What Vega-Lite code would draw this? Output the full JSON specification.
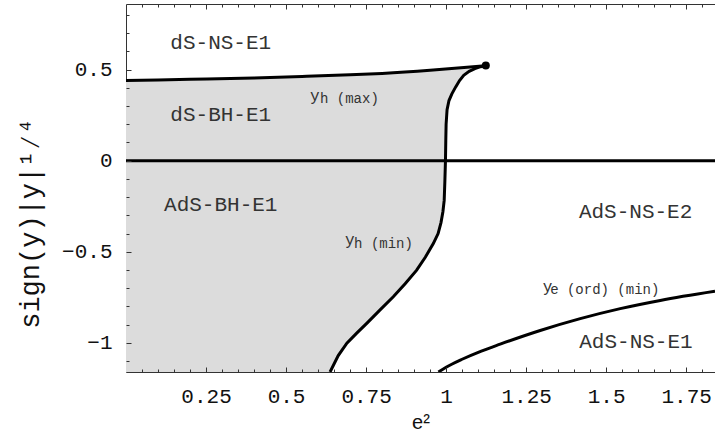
{
  "$schema": "https://vega.github.io/schema/vega-lite/v6.json",
  "width": 589,
  "height": 368,
  "autosize": {"type": "none"},
  "padding": {"left": 126, "top": 4, "right": 0, "bottom": 62},
  "background": "white",
  "config": {"view": {"stroke": null}},
  "datasets": {
    "fill": [
      {"y": -1.16, "xl": 0, "xr": 0.6375},
      {"y": -1.07, "xl": 0, "xr": 0.663},
      {"y": -1.002, "xl": 0, "xr": 0.69},
      {"y": -0.948, "xl": 0, "xr": 0.72},
      {"y": -0.893, "xl": 0, "xr": 0.752},
      {"y": -0.82, "xl": 0, "xr": 0.793},
      {"y": -0.747, "xl": 0, "xr": 0.835},
      {"y": -0.675, "xl": 0, "xr": 0.872},
      {"y": -0.601, "xl": 0, "xr": 0.908},
      {"y": -0.53, "xl": 0, "xr": 0.935},
      {"y": -0.455, "xl": 0, "xr": 0.96},
      {"y": -0.4, "xl": 0, "xr": 0.975},
      {"y": -0.34, "xl": 0, "xr": 0.984},
      {"y": -0.28, "xl": 0, "xr": 0.99},
      {"y": -0.218, "xl": 0, "xr": 0.994},
      {"y": -0.12, "xl": 0, "xr": 0.996},
      {"y": 0, "xl": 0, "xr": 0.998},
      {"y": 0.11, "xl": 0, "xr": 0.999},
      {"y": 0.2, "xl": 0, "xr": 1.0},
      {"y": 0.28, "xl": 0, "xr": 1.003},
      {"y": 0.33, "xl": 0, "xr": 1.009},
      {"y": 0.367, "xl": 0, "xr": 1.018},
      {"y": 0.405, "xl": 0, "xr": 1.03},
      {"y": 0.44, "xl": 0, "xr": 1.042},
      {"y": 0.447, "xl": 0.2, "xr": 1.045},
      {"y": 0.454, "xl": 0.4, "xr": 1.048},
      {"y": 0.462, "xl": 0.55, "xr": 1.052},
      {"y": 0.468, "xl": 0.65, "xr": 1.055},
      {"y": 0.471, "xl": 0.7, "xr": 1.057},
      {"y": 0.479, "xl": 0.8, "xr": 1.064},
      {"y": 0.49, "xl": 0.9, "xr": 1.072},
      {"y": 0.496, "xl": 0.95, "xr": 1.08},
      {"y": 0.505, "xl": 1.012, "xr": 1.09},
      {"y": 0.514, "xl": 1.075, "xr": 1.105},
      {"y": 0.516, "xl": 1.087, "xr": 1.108},
      {"y": 0.522, "xl": 1.124, "xr": 1.124}
    ],
    "zero": [
      {"x": 0, "y": 0},
      {"x": 1.84, "y": 0}
    ],
    "hmax": [
      {"x": 0, "y": 0.44},
      {"x": 0.2, "y": 0.447},
      {"x": 0.4, "y": 0.454},
      {"x": 0.55, "y": 0.462},
      {"x": 0.7, "y": 0.471},
      {"x": 0.8, "y": 0.479},
      {"x": 0.95, "y": 0.496},
      {"x": 1.075, "y": 0.514},
      {"x": 1.124, "y": 0.522}
    ],
    "hmin": [
      {"x": 1.124, "y": 0.522},
      {"x": 1.108, "y": 0.516},
      {"x": 1.09, "y": 0.505},
      {"x": 1.072, "y": 0.49},
      {"x": 1.055, "y": 0.468},
      {"x": 1.042, "y": 0.44},
      {"x": 1.03, "y": 0.405},
      {"x": 1.018, "y": 0.367},
      {"x": 1.009, "y": 0.33},
      {"x": 1.003, "y": 0.28},
      {"x": 1.0, "y": 0.2},
      {"x": 0.999, "y": 0.11},
      {"x": 0.998, "y": 0},
      {"x": 0.996, "y": -0.12},
      {"x": 0.994, "y": -0.218},
      {"x": 0.99, "y": -0.28},
      {"x": 0.984, "y": -0.34},
      {"x": 0.975, "y": -0.4},
      {"x": 0.96, "y": -0.455},
      {"x": 0.935, "y": -0.53},
      {"x": 0.908, "y": -0.601},
      {"x": 0.872, "y": -0.675},
      {"x": 0.835, "y": -0.747},
      {"x": 0.793, "y": -0.82},
      {"x": 0.752, "y": -0.893},
      {"x": 0.72, "y": -0.948},
      {"x": 0.69, "y": -1.002},
      {"x": 0.663, "y": -1.07},
      {"x": 0.6375, "y": -1.16}
    ],
    "ye": [
      {"x": 0.976, "y": -1.16},
      {"x": 1.0, "y": -1.134},
      {"x": 1.05, "y": -1.09},
      {"x": 1.11, "y": -1.045},
      {"x": 1.169, "y": -1.007},
      {"x": 1.294, "y": -0.932},
      {"x": 1.419, "y": -0.867},
      {"x": 1.544, "y": -0.812},
      {"x": 1.669, "y": -0.767},
      {"x": 1.84, "y": -0.717}
    ],
    "dot": [{"x": 1.124, "y": 0.522}],
    "regions": [
      {"x": 0.296, "y": 0.644, "label": "dS-NS-E1"},
      {"x": 0.296, "y": 0.248, "label": "dS-BH-E1"},
      {"x": 0.296, "y": -0.245, "label": "AdS-BH-E1"},
      {"x": 1.592, "y": -0.284, "label": "AdS-NS-E2"},
      {"x": 1.593, "y": -0.993, "label": "AdS-NS-E1"}
    ],
    "mainy": [
      {"x": 0.575, "y": 0.33, "label": "y"},
      {"x": 0.684, "y": -0.464, "label": "y"},
      {"x": 1.302, "y": -0.72, "label": "y"}
    ],
    "subs": [
      {"x": 0.606, "y": 0.318, "label": "h (max)"},
      {"x": 0.7125, "y": -0.482, "label": "h (min)"},
      {"x": 1.325, "y": -0.732, "label": "e (ord) (min)"}
    ]
  },
  "resolve": {
    "scale": {"x": "shared", "y": "shared"},
    "axis": {"x": "independent", "y": "independent"}
  },
  "layer": [
    {
      "data": {"name": "fill"},
      "mark": {"type": "area", "orient": "horizontal", "color": "#dcdcdc", "clip": true},
      "encoding": {
        "y": {
          "field": "y", "type": "quantitative",
          "scale": {"domain": [-1.16, 0.86], "nice": false, "zero": false},
          "axis": {
            "orient": "left", "values": [-1, -0.5, 0, 0.5],
            "labelExpr": "replace(toString(datum.value), '-', '−')",
            "ticks": false, "grid": false, "domain": true, "domainColor": "#333", "domainWidth": 1,
            "labelFont": "Liberation Mono", "labelFontSize": 21, "labelColor": "#111", "labelPadding": 14,
            "title": "sign(y)|y|¹⁄⁴", "titleFont": "Liberation Mono", "titleFontSize": 27,
            "titleFontWeight": "normal", "titleColor": "#111", "titleAngle": -90,
            "titleAlign": "center", "titleBaseline": "middle", "titleX": -96, "titleY": 219
          }
        },
        "x": {
          "field": "xl", "type": "quantitative",
          "scale": {"domain": [0, 1.84], "nice": false, "zero": false},
          "axis": {
            "orient": "bottom", "values": [0.25, 0.5, 0.75, 1, 1.25, 1.5, 1.75],
            "labelExpr": "toString(datum.value)",
            "ticks": false, "grid": false, "domain": true, "domainColor": "#333", "domainWidth": 1,
            "labelFont": "Liberation Mono", "labelFontSize": 21, "labelColor": "#111", "labelPadding": 13,
            "title": "e²", "titleFont": "Liberation Sans", "titleFontSize": 20,
            "titleFontWeight": "normal", "titleColor": "#111",
            "titleBaseline": "alphabetic", "titleY": 56
          }
        },
        "x2": {"field": "xr"},
        "order": {"value": null}
      }
    },
    {
      "data": {"name": "zero"},
      "mark": {"type": "line", "color": "black", "strokeWidth": 3, "clip": true},
      "encoding": {
        "x": {
          "field": "x", "type": "quantitative",
          "scale": {"domain": [0, 1.84], "nice": false, "zero": false},
          "axis": {
            "orient": "bottom", "offset": -3, "zindex": 1,
            "values": [0.05, 0.1, 0.15, 0.2, 0.3, 0.35, 0.4, 0.45, 0.55, 0.6, 0.65, 0.7, 0.8, 0.85, 0.9, 0.95, 1.05, 1.1, 1.15, 1.2, 1.3, 1.35, 1.4, 1.45, 1.55, 1.6, 1.65, 1.7, 1.8],
            "labels": false, "domain": false, "grid": false, "title": null,
            "ticks": true, "tickSize": 3, "tickColor": "#333", "tickWidth": 1
          }
        },
        "y": {
          "field": "y", "type": "quantitative",
          "scale": {"domain": [-1.16, 0.86], "nice": false, "zero": false},
          "axis": {
            "orient": "left", "offset": -3, "zindex": 1,
            "values": [-1.1, -0.9, -0.8, -0.7, -0.6, -0.4, -0.3, -0.2, -0.1, 0.1, 0.2, 0.3, 0.4, 0.6, 0.7, 0.8],
            "labels": false, "domain": false, "grid": false, "title": null,
            "ticks": true, "tickSize": 3, "tickColor": "#333", "tickWidth": 1
          }
        }
      }
    },
    {
      "data": {"name": "hmax"},
      "mark": {"type": "line", "color": "black", "strokeWidth": 3, "clip": true, "interpolate": "monotone"},
      "encoding": {
        "x": {
          "field": "x", "type": "quantitative",
          "scale": {"domain": [0, 1.84], "nice": false, "zero": false},
          "axis": {
            "orient": "bottom", "offset": -5, "zindex": 1, "values": [0.25, 0.5, 0.75, 1, 1.25, 1.5, 1.75],
            "labels": false, "domain": false, "grid": false, "title": null,
            "ticks": true, "tickSize": 5, "tickColor": "#333", "tickWidth": 1
          }
        },
        "y": {
          "field": "y", "type": "quantitative",
          "scale": {"domain": [-1.16, 0.86], "nice": false, "zero": false},
          "axis": {
            "orient": "left", "offset": -5, "zindex": 1, "values": [-1, -0.5, 0, 0.5],
            "labels": false, "domain": false, "grid": false, "title": null,
            "ticks": true, "tickSize": 5, "tickColor": "#333", "tickWidth": 1
          }
        },
        "order": {"value": null}
      }
    },
    {
      "data": {"name": "hmin"},
      "mark": {"type": "line", "color": "black", "strokeWidth": 3, "clip": true},
      "encoding": {
        "x": {
          "field": "x", "type": "quantitative",
          "scale": {"domain": [0, 1.84], "nice": false, "zero": false},
          "axis": {
            "orient": "top", "offset": -3, "zindex": 1,
            "values": [0.05, 0.1, 0.15, 0.2, 0.3, 0.35, 0.4, 0.45, 0.55, 0.6, 0.65, 0.7, 0.8, 0.85, 0.9, 0.95, 1.05, 1.1, 1.15, 1.2, 1.3, 1.35, 1.4, 1.45, 1.55, 1.6, 1.65, 1.7, 1.8],
            "labels": false, "domain": false, "grid": false, "title": null,
            "ticks": true, "tickSize": 3, "tickColor": "#333", "tickWidth": 1
          }
        },
        "y": {
          "field": "y", "type": "quantitative",
          "scale": {"domain": [-1.16, 0.86], "nice": false, "zero": false},
          "axis": null
        },
        "order": {"value": null}
      }
    },
    {
      "data": {"name": "ye"},
      "mark": {"type": "line", "color": "black", "strokeWidth": 3, "clip": true, "interpolate": "monotone"},
      "encoding": {
        "x": {
          "field": "x", "type": "quantitative",
          "scale": {"domain": [0, 1.84], "nice": false, "zero": false},
          "axis": {
            "orient": "top", "offset": -5, "zindex": 1, "values": [0.25, 0.5, 0.75, 1, 1.25, 1.5, 1.75],
            "labels": false, "domain": false, "grid": false, "title": null,
            "ticks": true, "tickSize": 5, "tickColor": "#333", "tickWidth": 1
          }
        },
        "y": {
          "field": "y", "type": "quantitative",
          "scale": {"domain": [-1.16, 0.86], "nice": false, "zero": false},
          "axis": null
        },
        "order": {"value": null}
      }
    },
    {
      "data": {"name": "dot"},
      "mark": {"type": "circle", "color": "black", "size": 65, "opacity": 1},
      "encoding": {
        "x": {
          "field": "x", "type": "quantitative",
          "axis": {
            "orient": "top", "labels": false, "ticks": false, "grid": false, "title": null,
            "domain": true, "domainColor": "#333", "domainWidth": 1
          }
        },
        "y": {"field": "y", "type": "quantitative", "axis": null}
      }
    },
    {
      "data": {"name": "regions"},
      "mark": {"type": "text", "font": "Liberation Mono", "fontSize": 21, "align": "center", "baseline": "middle", "color": "#333"},
      "encoding": {
        "x": {"field": "x", "type": "quantitative", "axis": null},
        "y": {"field": "y", "type": "quantitative", "axis": null},
        "text": {"field": "label"}
      }
    },
    {
      "data": {"name": "mainy"},
      "mark": {"type": "text", "font": "Liberation Mono", "fontSize": 16, "align": "left", "baseline": "alphabetic", "color": "#333"},
      "encoding": {
        "x": {"field": "x", "type": "quantitative", "axis": null},
        "y": {"field": "y", "type": "quantitative", "axis": null},
        "text": {"field": "label"}
      }
    },
    {
      "data": {"name": "subs"},
      "mark": {"type": "text", "font": "Liberation Mono", "fontSize": 14, "align": "left", "baseline": "alphabetic", "color": "#333"},
      "encoding": {
        "x": {"field": "x", "type": "quantitative", "axis": null},
        "y": {"field": "y", "type": "quantitative", "axis": null},
        "text": {"field": "label"}
      }
    }
  ]
}
